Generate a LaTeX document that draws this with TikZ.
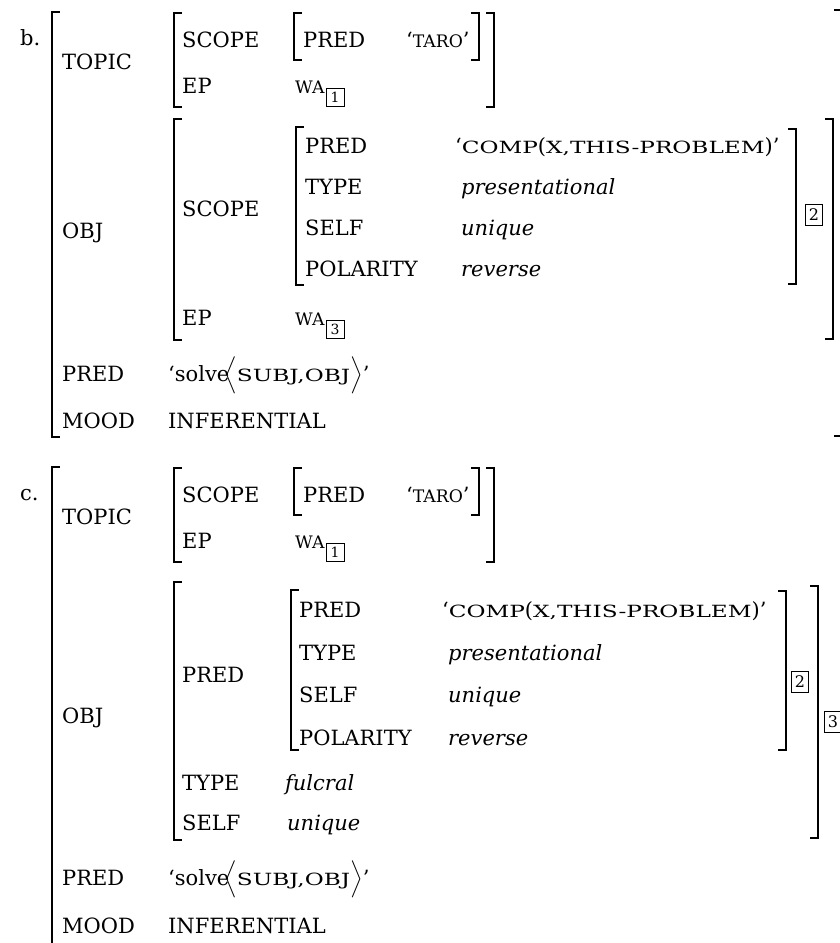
\documentclass[tikz,border=0pt]{standalone}
\usepackage{amsmath,amssymb}
\usepackage{exscale}
\usepackage{fontspec}
\setmainfont{DejaVu Serif}
\newfontfamily\scfont{DejaVu Serif}[Scale=0.82]
\newfontfamily\scwfont{DejaVu Serif}[Scale=0.8, FakeStretch=1.38]
\newcommand{\fsc}[1]{{\scfont #1}}
\newcommand{\fscw}[1]{{\scwfont #1}}
\usepackage{tikz}
\usetikzlibrary{positioning}

\begin{document}
\begin{tikzpicture}[x=1pt, y=-1pt,
  every node/.style={inner sep=0pt, anchor=base west, font=\fontsize{21}{25}\selectfont},
  brk/.style={line width=1.8pt},
  tagbox/.style={draw, line width=1pt, anchor=center, minimum width=17pt, minimum height=21pt, font=\fontsize{16}{16}\selectfont},
  subtag/.style={draw, line width=1pt, anchor=north west, minimum width=18pt, minimum height=18pt, font=\fontsize{14}{14}\selectfont}]

  \useasboundingbox (0,0) rectangle (840,943);

  % ---------- (b) ----------
  \node (blab) at (20,45) {b.};
  \draw[brk] (60,12) -- (52,12) -- (52,437) -- (60,437);
  \draw[brk] (834,10) -- (842,10) -- (842,436) -- (834,436);

  % TOPIC
  \node (btopic) at (62,69) {TOPIC};
  \draw[brk] (182,13) -- (174,13) -- (174,107) -- (182,107);
  \node (bscope) at (182,47) {SCOPE};
  \draw[brk] (302,13) -- (294,13) -- (294,60) -- (302,60);
  \node (bpreda) at (303,47) {PRED};
  \node (btaro) at (406,47) {`\fsc{TARO}'};
  \draw[brk] (471,13) -- (479,13) -- (479,60) -- (471,60);
  \draw[brk] (486,13) -- (494,13) -- (494,107) -- (486,107);
  \node (bepa) at (182,93) {EP};
  \node (bwaa) at (295,93) {\fsc{WA}};
  \node[subtag] (btaga) at ([xshift=1pt,yshift=5pt]bwaa.base east) {1};

  % OBJ
  \node (bobj) at (62,238) {OBJ};
  \draw[brk] (182,119) -- (174,119) -- (174,340) -- (182,340);
  \node (bscopeb) at (182,216) {SCOPE};
  \draw[brk] (304,127) -- (296,127) -- (296,285) -- (304,285);
  \node (bpredb) at (305,153) {PRED};
  \node (bcomp) at (455,153) {`\fscw{COMP}(\fscw{X,THIS-PROBLEM})'};
  \node (btype) at (305,194) {TYPE};
  \node (bpres) at (461,194) {\textit{presentational}};
  \node (bself) at (305,235) {SELF};
  \node (buniq) at (461,235) {\textit{unique}};
  \node (bpol) at (305,276) {POLARITY};
  \node (brev) at (461,276) {\textit{reverse}};
  \draw[brk] (788,129) -- (796,129) -- (796,284) -- (788,284);
  \node[tagbox] (btagb) at (814,215) {2};
  \draw[brk] (825,119) -- (833,119) -- (833,339) -- (825,339);
  \node (bepb) at (182,325) {EP};
  \node (bwab) at (295,325) {\fsc{WA}};
  \node[subtag] (btagc) at ([xshift=1pt,yshift=5pt]bwab.base east) {3};

  % PRED, MOOD
  \node (bpredc) at (62,381) {PRED};
  \node (bsolve) at (168,381) {`solve\kern-5pt$\Big\langle$\fscw{SUBJ,OBJ}$\Big\rangle$'};
  \node (bmood) at (62,428) {MOOD};
  \node (binf) at (168,428) {INFERENTIAL};

  % ---------- (c) ----------
  \node (clab) at (20,500) {c.};
  \draw[brk] (60,467) -- (52,467) -- (52,950);

  % TOPIC
  \node (ctopic) at (62,524) {TOPIC};
  \draw[brk] (182,468) -- (174,468) -- (174,562) -- (182,562);
  \node (cscope) at (182,502) {SCOPE};
  \draw[brk] (302,468) -- (294,468) -- (294,515) -- (302,515);
  \node (cpreda) at (303,502) {PRED};
  \node (ctaro) at (406,502) {`\fsc{TARO}'};
  \draw[brk] (471,468) -- (479,468) -- (479,515) -- (471,515);
  \draw[brk] (486,468) -- (494,468) -- (494,562) -- (486,562);
  \node (cepa) at (182,548) {EP};
  \node (cwaa) at (295,548) {\fsc{WA}};
  \node[subtag] (ctaga) at ([xshift=1pt,yshift=5pt]cwaa.base east) {1};

  % OBJ
  \node (cobj) at (62,723) {OBJ};
  \draw[brk] (182,582) -- (174,582) -- (174,840) -- (182,840);
  \node (cpredl) at (182,682) {PRED};
  \draw[brk] (299,590) -- (291,590) -- (291,750) -- (299,750);
  \node (cpredb) at (299,617) {PRED};
  \node (ccomp) at (442,617) {`\fscw{COMP}(\fscw{X,THIS-PROBLEM})'};
  \node (ctype) at (299,660) {TYPE};
  \node (cpres) at (448,660) {\textit{presentational}};
  \node (cself) at (299,702) {SELF};
  \node (cuniq) at (448,702) {\textit{unique}};
  \node (cpol) at (299,745) {POLARITY};
  \node (crev) at (448,745) {\textit{reverse}};
  \draw[brk] (778,591) -- (786,591) -- (786,750) -- (778,750);
  \node[tagbox] (ctagb) at (800,682) {2};
  \draw[brk] (810,586) -- (818,586) -- (818,838) -- (810,838);
  \node[tagbox] (ctagc) at (833,722) {3};
  \node (ctypeb) at (182,790) {TYPE};
  \node (cfulc) at (285,790) {\textit{fulcral}};
  \node (cselfb) at (182,830) {SELF};
  \node (cuniqb) at (287,830) {\textit{unique}};

  % PRED, MOOD
  \node (cpredc) at (62,885) {PRED};
  \node (csolve) at (168,885) {`solve\kern-5pt$\Big\langle$\fscw{SUBJ,OBJ}$\Big\rangle$'};
  \node (cmood) at (62,933) {MOOD};
  \node (cinf) at (168,933) {INFERENTIAL};
\end{tikzpicture}
\end{document}
